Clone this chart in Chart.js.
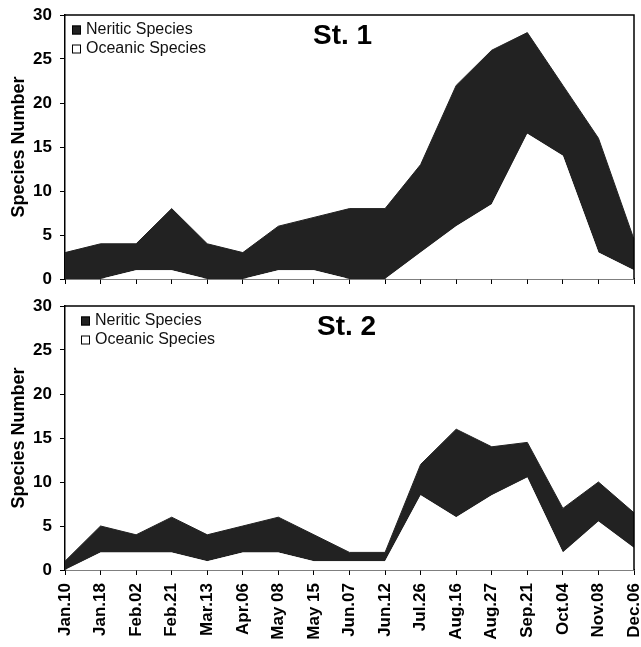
<!DOCTYPE html>
<html><head><meta charset="utf-8"/>
<style>
html,body{margin:0;padding:0;background:#fff;}
#wrap{position:relative;width:641px;height:647px;overflow:hidden;}
.box{position:absolute;left:0;width:641px;}
</style>
</head><body>
<div id="wrap">
	<div class="box" style="top:0;height:290px;"><canvas id="c1" width="641" height="290"></canvas></div>
	<div class="box" style="top:290px;height:357px;"><canvas id="c2" width="641" height="357"></canvas></div>
</div>
<script src="https://cdn.jsdelivr.net/npm/chart.js@4"></script>
<script>
const dates = ['Jan.10','Jan.18','Feb.02','Feb.21','Mar.13','Apr.06','May 08','May 15','Jun.07','Jun.12','Jul.26','Aug.16','Aug.27','Sep.21','Oct.04','Nov.08','Dec.06'];

// St. 1
const st1Oceanic = [0, 0, 1, 1, 0, 0, 1, 1, 0, 0, 3, 6, 8.5, 16.5, 14, 3, 1];
const st1Neritic = [3, 4, 3, 7, 4, 3, 5, 6, 8, 8, 10, 16, 17.5, 11.5, 8, 13, 3.5];

// St. 2
const st2Oceanic = [0, 2, 2, 2, 1, 2, 2, 1, 1, 1, 8.5, 6, 8.5, 10.5, 2, 5.5, 2.5];
const st2Neritic = [1, 3, 2, 4, 3, 3, 4, 3, 1, 1, 3.5, 10, 5.5, 4, 5, 4.5, 4];

const yTicks = [0, 5, 10, 15, 20, 25, 30];

const FONT = "'Liberation Sans', Arial, sans-serif";
const DARK = '#222';

function boxPlugin(title, titleX, legX) {
	return {
		id: 'box',
		afterDraw(chart) {
			const {ctx, chartArea: a} = chart;
			ctx.save();
			// frame top + right
			ctx.strokeStyle = '#000';
			ctx.lineWidth = 1.5;
			ctx.beginPath();
			ctx.moveTo(a.left, a.top);
			ctx.lineTo(a.right, a.top);
			ctx.lineTo(a.right, a.bottom);
			ctx.stroke();
			// station title
			ctx.fillStyle = '#000';
			ctx.font = 'bold 28px ' + FONT;
			ctx.textBaseline = 'middle';
			ctx.textAlign = 'left';
			ctx.fillText(title, titleX, a.top + 21);
			// legend (reverse order, like the stack)
			ctx.font = '16px ' + FONT;
			ctx.lineWidth = 1;
			const sets = chart.data.datasets.slice().reverse();
			sets.forEach((ds, i) => {
				const y = a.top + 15 + i * 19;
				ctx.fillStyle = ds.backgroundColor;
				ctx.fillRect(legX, y - 4.5, 9, 9);
				ctx.strokeRect(legX + 0.5, y - 4, 8, 8);
				ctx.fillStyle = '#111';
				ctx.fillText(ds.label, legX + 14, y);
			});
			ctx.restore();
		}
	};
}

function makeChart(id, title, oceanic, neritic, showLabels, topPad, xHeight, titleX, legX) {
	return new Chart(document.getElementById(id), {
		type: 'line',
		data: {
			labels: dates,
			datasets: [
				{label: 'Oceanic Species', data: oceanic, fill: 'origin', backgroundColor: '#fff', borderWidth: 0, pointRadius: 0, tension: 0},
				{label: 'Neritic Species', data: neritic, fill: '-1', backgroundColor: DARK, borderColor: DARK, borderWidth: 1, pointRadius: 0, tension: 0},
			]
		},
		options: {
			responsive: false,
			animation: false,
			layout: {padding: {top: topPad, right: 7, left: 0, bottom: 0}},
			scales: {
				x: {
					offset: false,
					grid: {drawOnChartArea: false, drawTicks: true, tickLength: 5, color: '#000'},
					border: {color: '#000', width: 1.5},
					ticks: {display: showLabels, autoSkip: false, maxRotation: 90, minRotation: 90, padding: 8, color: '#000',
						font: {family: FONT, size: 17, weight: 'bold'}},
					afterFit: s => { s.height = xHeight; s.paddingLeft = 0; s.paddingRight = 0; },
				},
				y: {
					stacked: true,
					min: 0, max: 30,
					afterBuildTicks: s => { s.ticks = yTicks.map(v => ({value: v})); },
					grid: {drawOnChartArea: false, drawTicks: true, tickLength: 5, color: '#000'},
					border: {color: '#000', width: 1.5},
					ticks: {padding: 8, color: '#000', font: {family: FONT, size: 17, weight: 'bold'}},
					title: {display: true, text: 'Species Number', color: '#000', padding: {top: 8, bottom: 0},
						font: {family: FONT, size: 18, weight: 'bold'}},
					afterFit: s => { s.width = 65; s.paddingTop = 0; s.paddingBottom = 0; },
				}
			},
			plugins: {legend: {display: false}, tooltip: {enabled: false}}
		},
		plugins: [boxPlugin(title, titleX, legX)]
	});
}

makeChart('c1', 'St. 1', st1Oceanic, st1Neritic, false, 15, 11, 313, 72);
makeChart('c2', 'St. 2', st2Oceanic, st2Neritic, true, 16, 77, 317, 81);
</script>
</body></html>
